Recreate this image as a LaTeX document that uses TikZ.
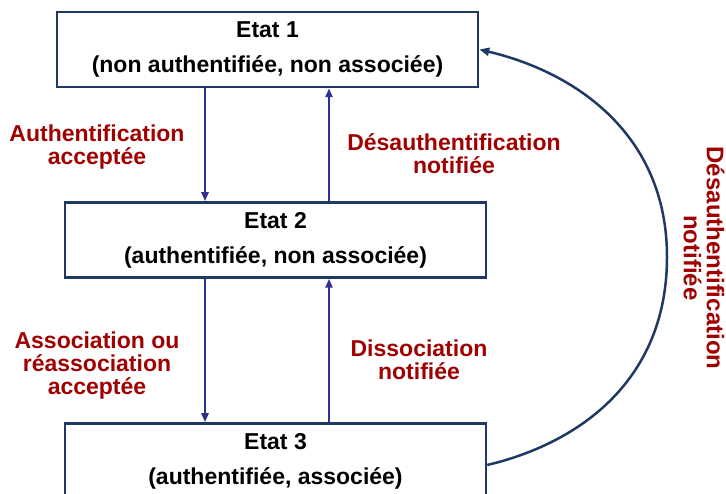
\documentclass[tikz,border=0pt]{standalone}
\usepackage{fontspec}
\setmainfont{Liberation Sans}
\usetikzlibrary{arrows.meta}
\definecolor{bordure}{RGB}{31,56,100}
\definecolor{fleche}{RGB}{46,49,146}
\definecolor{rouge}{RGB}{160,0,0}
\begin{document}
\begin{tikzpicture}[x=1pt,y=-1pt]
\tikzstyle{etat}=[draw=bordure, line width=2.5pt, minimum width=421pt, minimum height=75pt, align=center, inner sep=0pt, font=\fontsize{23}{24}\selectfont\bfseries]
\tikzstyle{lbl}=[text=rouge, align=center, inner sep=0pt, font=\fontsize{23}{23}\selectfont\bfseries]
\tikzstyle{trans}=[draw=fleche, line width=2.2pt, -{Triangle[length=9pt,width=7pt]}]
\tikzstyle{retour}=[draw=bordure, line width=2.5pt, -{Triangle[length=10pt,width=8pt]}]
\useasboundingbox (0,0) rectangle (726,494);
\node[etat] (e1) at (267.5,49.5) {Etat 1\\[11pt](non authentifiée, non associée)};
\node[etat] (e2) at (275.5,240) {Etat 2\\[11pt](authentifiée, non associée)};
\node[etat] (e3) at (275.5,461) {Etat 3\\[11pt](authentifiée, associée)};
\node[lbl] (l1) at (97,147.5) {Authentification\\acceptée};
\node[lbl] (l2) at (454,153.5) {Désauthentification\\notifiée};
\node[lbl] (l3) at (97,366) {Association ou\\réassociation\\acceptée};
\node[lbl] (l4) at (419,360) {Dissociation\\notifiée};
\node[lbl, rotate=-90, font=\fontsize{24}{23}\selectfont\bfseries] (l5) at (704,258) {Désauthentification\\notifiée};
\coordinate (gauche) at (205,0);
\coordinate (droite) at (329,0);
\coordinate (sommet) at (667,257);
\draw[trans] (e1.south -| gauche) -- (e2.north -| gauche);
\draw[trans] (e2.north -| droite) -- (e1.south -| droite);
\draw[trans] (e2.south -| gauche) -- (e3.north -| gauche);
\draw[trans] (e3.north -| droite) -- (e2.south -| droite);
\draw[retour] ([yshift=-4pt]e3.east) .. controls (580,443) and (667,380) .. (sommet) .. controls (667,134) and (575,72) .. (e1.east);
\end{tikzpicture}
\end{document}
